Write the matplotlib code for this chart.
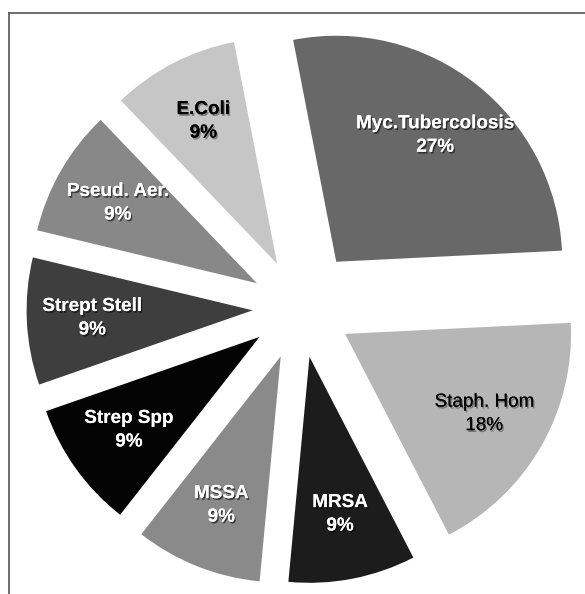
import numpy as np
import matplotlib.pyplot as plt
import matplotlib.patheffects as pe
from matplotlib.lines import Line2D

plt.rcParams['font.family'] = ['Liberation Sans', 'DejaVu Sans']

# data (counts -> 27%, 18%, 9% ...)
labels = ['Myc.Tubercolosis', 'Staph. Hom', 'MRSA', 'MSSA',
          'Strep Spp', 'Strept Stell', 'Pseud. Aer.', 'E.Coli']
counts = [3, 2, 1, 1, 1, 1, 1, 1]
pct_text = ['27%', '18%', '9%', '9%', '9%', '9%', '9%', '9%']

colors = ['#686868', '#b6b6b6', '#1c1c1c', '#8a8a8a',
          '#030303', '#3e3e3e', '#888888', '#c6c6c6']
text_colors = ['white', 'black', 'white', 'white',
               'white', 'white', 'white', 'black']
text_weights = ['bold', 'normal', 'bold', 'bold',
                'bold', 'bold', 'bold', 'bold']
explode = [0.26, 0.23, 0.22, 0.23, 0.22, 0.21, 0.22, 0.22]

fig = plt.figure(figsize=(5.85, 5.94), dpi=100)
ax = fig.add_axes([0, 0, 1, 1])

wedges, _ = ax.pie(counts, colors=colors, explode=explode, startangle=101,
                   counterclock=False, radius=1.0,
                   wedgeprops=dict(linewidth=0))

# labels sit at ~0.71 of the radius along each wedge's bisector
for w, lab, p, tc, fw in zip(wedges, labels, pct_text, text_colors,
                             text_weights):
    ang = np.deg2rad((w.theta1 + w.theta2) / 2)
    cx, cy = w.center
    x = cx + 0.71 * np.cos(ang)
    y = cy + 0.71 * np.sin(ang)
    shadow_alpha = 0.55 if tc == 'white' else 0.35
    ax.text(x, y, lab + '\n' + p, ha='center', va='center',
            color=tc, fontsize=13.6, fontweight=fw, linespacing=1.5,
            path_effects=[pe.withSimplePatchShadow(offset=(1.0, -1.3),
                                                   shadow_rgbFace='black',
                                                   alpha=shadow_alpha),
                          pe.Normal()])

# pixel based view: centre at (300, 308), radius 226 px
R = 226.0
ax.set_xlim(-300 / R, (585 - 300) / R)
ax.set_ylim(-(594 - 308) / R, 308 / R)
ax.set_aspect('equal')
ax.axis('off')

# thin frame on the left and top (image is cropped on the other sides)
fx = 9 / 585
fy = 1 - 13 / 594
fig.add_artist(Line2D([fx, fx], [0, fy], transform=fig.transFigure,
                      color='#555555', linewidth=1.2))
fig.add_artist(Line2D([fx, 1], [fy, fy], transform=fig.transFigure,
                      color='#555555', linewidth=1.2))

fig.savefig('out.png', dpi=100, facecolor='white')
